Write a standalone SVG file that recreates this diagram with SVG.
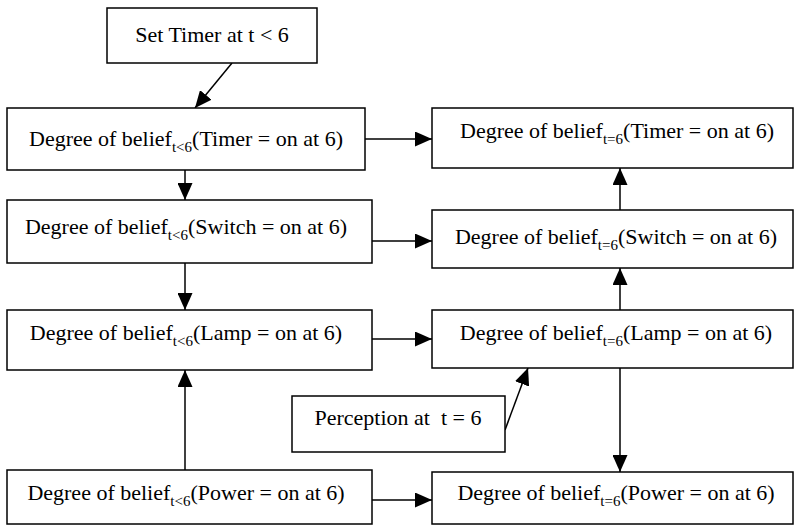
<svg xmlns="http://www.w3.org/2000/svg" width="800" height="526" viewBox="0 0 800 526">
<style>
.box{fill:#fff;stroke:#000;stroke-width:1.5}
.t{font-family:"Liberation Serif","Times New Roman",serif;font-size:22px;fill:#000;text-anchor:middle}
.s{font-size:15px}
.c{stroke:#000;stroke-width:1.5;fill:none;marker-end:url(#ah)}
</style>
<defs>
<marker id="ah" markerUnits="userSpaceOnUse" markerWidth="17" markerHeight="15" refX="17" refY="7.5" orient="auto">
<path d="M0,0 L17,7.5 L0,15 z" fill="#000"/>
</marker>
</defs>
<rect width="800" height="526" fill="#fff"/>
<g id="connectors">
<line class="c" x1="232" y1="63" x2="195" y2="108"/>
<line class="c" x1="365" y1="139" x2="432" y2="139"/>
<line class="c" x1="185" y1="170" x2="185" y2="200"/>
<line class="c" x1="372" y1="241" x2="432" y2="241"/>
<line class="c" x1="620" y1="210" x2="620" y2="168"/>
<line class="c" x1="185" y1="263" x2="185" y2="310"/>
<line class="c" x1="372" y1="339" x2="432" y2="339"/>
<line class="c" x1="620" y1="310" x2="620" y2="268"/>
<line class="c" x1="505" y1="430" x2="528" y2="368"/>
<line class="c" x1="620" y1="368" x2="620" y2="472"/>
<line class="c" x1="185" y1="470" x2="185" y2="370"/>
<line class="c" x1="372" y1="500" x2="432" y2="500"/>
</g>
<g id="settimer">
<rect class="box" x="107" y="8" width="210" height="55"/>
<text class="t" x="212" y="42">Set Timer at t &lt; 6</text>
</g>
<g id="timer_before">
<rect class="box" x="7" y="108" width="358" height="62"/>
<text class="t" x="186" y="146">Degree of belief<tspan class="s" dy="6">t&lt;6</tspan><tspan dy="-6">(Timer = on at 6)</tspan></text>
</g>
<g id="timer_now">
<rect class="box" x="432" y="108" width="361" height="60"/>
<text class="t" x="617" y="138">Degree of belief<tspan class="s" dy="6">t=6</tspan><tspan dy="-6">(Timer = on at 6)</tspan></text>
</g>
<g id="switch_before">
<rect class="box" x="7" y="200" width="365" height="63"/>
<text class="t" x="186" y="234">Degree of belief<tspan class="s" dy="6">t&lt;6</tspan><tspan dy="-6">(Switch = on at 6)</tspan></text>
</g>
<g id="switch_now">
<rect class="box" x="432" y="210" width="361" height="58"/>
<text class="t" x="616" y="244">Degree of belief<tspan class="s" dy="6">t=6</tspan><tspan dy="-6">(Switch = on at 6)</tspan></text>
</g>
<g id="lamp_before">
<rect class="box" x="7" y="310" width="365" height="60"/>
<text class="t" x="186" y="340">Degree of belief<tspan class="s" dy="6">t&lt;6</tspan><tspan dy="-6">(Lamp = on at 6)</tspan></text>
</g>
<g id="lamp_now">
<rect class="box" x="432" y="310" width="361" height="58"/>
<text class="t" x="616" y="340">Degree of belief<tspan class="s" dy="6">t=6</tspan><tspan dy="-6">(Lamp = on at 6)</tspan></text>
</g>
<g id="perception">
<rect class="box" x="292" y="396" width="213" height="56"/>
<text class="t" x="398" y="425" xml:space="preserve">Perception at  t = 6</text>
</g>
<g id="power_before">
<rect class="box" x="7" y="470" width="365" height="54"/>
<text class="t" x="186" y="500">Degree of belief<tspan class="s" dy="6">t&lt;6</tspan><tspan dy="-6">(Power = on at 6)</tspan></text>
</g>
<g id="power_now">
<rect class="box" x="432" y="472" width="361" height="52"/>
<text class="t" x="616" y="500">Degree of belief<tspan class="s" dy="6">t=6</tspan><tspan dy="-6">(Power = on at 6)</tspan></text>
</g>
</svg>
